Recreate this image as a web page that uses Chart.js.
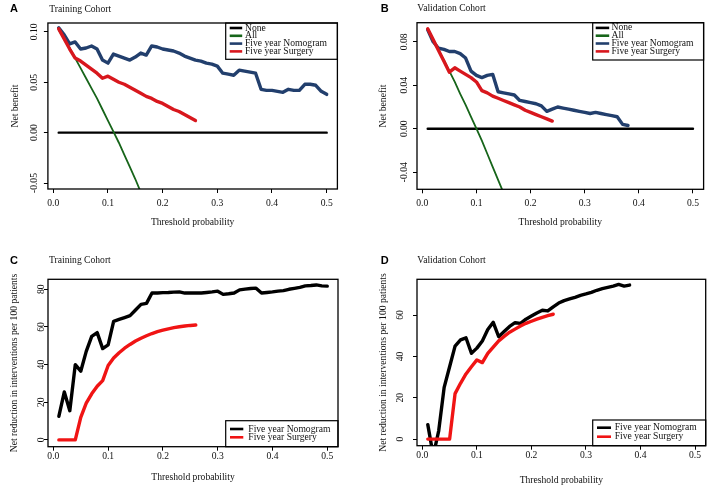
<!DOCTYPE html>
<html>
<head>
<meta charset="utf-8">
<script src="https://cdn.jsdelivr.net/npm/chart.js@4.4.0/dist/chart.umd.min.js"></script>
<style>
  body { margin: 0; background: #fff; width: 708px; height: 489px; position: relative; overflow: hidden; }
  canvas { position: absolute; }
</style>
</head>
<body>
<canvas id="chartA" width="354" height="240" style="left:0;top:0"></canvas>
<canvas id="chartB" width="354" height="240" style="left:354px;top:0"></canvas>
<canvas id="chartC" width="354" height="249" style="left:0;top:240px"></canvas>
<canvas id="chartD" width="354" height="249" style="left:354px;top:240px"></canvas>
<script>
// threshold probabilities (x values); shorter series use the first n of them
const thresholds = [0.01, 0.02, 0.03, 0.04, 0.05, 0.06, 0.07, 0.08, 0.09, 0.10,
                    0.11, 0.12, 0.13, 0.14, 0.15, 0.16, 0.17, 0.18, 0.19, 0.20,
                    0.21, 0.22, 0.23, 0.24, 0.25, 0.26, 0.27, 0.28, 0.29, 0.30,
                    0.31, 0.32, 0.33, 0.34, 0.35, 0.36, 0.37, 0.38, 0.39, 0.40,
                    0.41, 0.42, 0.43, 0.44, 0.45, 0.46, 0.47, 0.48, 0.49, 0.50];
const noneX = [0.01, 0.50];
const seriesNames = ['None', 'All', 'Five year Nomogram', 'Five year Surgery'];

// A: training cohort, net benefit
const noneTrain = [0, 0];
const allTrain = [0.102, 0.093, 0.084, 0.074, 0.064, 0.054, 0.044, 0.034, 0.023, 0.012,
                  0.001, -0.010, -0.022, -0.034, -0.046, -0.059];
const nomoTrain = [0.104, 0.097, 0.088, 0.090, 0.083, 0.084, 0.086, 0.083, 0.072, 0.069,
                   0.078, 0.076, 0.074, 0.072, 0.075, 0.079, 0.077, 0.086, 0.085, 0.083,
                   0.082, 0.081, 0.079, 0.076, 0.074, 0.072, 0.071, 0.069, 0.068, 0.066,
                   0.059, 0.058, 0.057, 0.062, 0.061, 0.060, 0.059, 0.043, 0.042, 0.042,
                   0.041, 0.040, 0.043, 0.042, 0.042, 0.048, 0.048, 0.047, 0.041, 0.038];
const surgTrain = [0.103, 0.093, 0.083, 0.074, 0.071, 0.067, 0.063, 0.059, 0.054, 0.056,
                   0.053, 0.050, 0.048, 0.045, 0.042, 0.039, 0.036, 0.034, 0.031, 0.029,
                   0.026, 0.023, 0.021, 0.018, 0.015, 0.012];

// B: validation cohort, net benefit
const noneValid = [0, 0];
const allValid = [0.091, 0.082, 0.072, 0.063, 0.053, 0.043, 0.032, 0.022, 0.011, 0.000,
                  -0.011, -0.023, -0.035, -0.047, -0.059];
const nomoValid = [0.091, 0.080, 0.074, 0.073, 0.071, 0.071, 0.069, 0.065, 0.053, 0.049,
                   0.047, 0.049, 0.050, 0.034, 0.033, 0.032, 0.031, 0.026, 0.025, 0.024,
                   0.023, 0.021, 0.016, 0.018, 0.020, 0.019, 0.018, 0.017, 0.016, 0.015,
                   0.014, 0.015, 0.014, 0.013, 0.012, 0.011, 0.004, 0.003];
const surgValid = [0.092, 0.082, 0.072, 0.062, 0.052, 0.056, 0.053, 0.050, 0.047, 0.043,
                   0.035, 0.033, 0.030, 0.028, 0.026, 0.024, 0.022, 0.020, 0.017, 0.015,
                   0.013, 0.011, 0.009, 0.007];

// C: training cohort, net reduction in interventions per 100 patients
const nomoTrainRed = [12.5, 25.5, 15.5, 40, 36.5, 47, 55, 57, 48.5, 50.5,
                      63, 64, 65, 66, 69, 72, 72.5, 78, 78, 78.2,
                      78.3, 78.5, 78.6, 78, 78, 78, 78, 78.3, 78.6, 79,
                      77.3, 77.6, 78, 79.7, 80.1, 80.4, 80.6, 78, 78.3, 78.6,
                      79, 79.3, 80, 80.5, 81, 81.8, 82, 82.3, 81.8, 81.7];
const surgTrainRed = [0, 0, 0, 0, 12, 19.5, 24.5, 28.5, 31.5, 39.5,
                      43.5, 46.3, 48.7, 50.7, 52.5, 54, 55.3, 56.5, 57.5, 58.3,
                      59, 59.6, 60.1, 60.5, 60.8, 61];

// D: validation cohort, net reduction in interventions per 100 patients
const nomoValidRed = [7, -8, 4, 25, 35, 45, 48, 49, 41.5, 44,
                      47.5, 53, 56.5, 49.5, 52, 54.5, 56.3, 56, 58, 59.5,
                      61, 62.3, 62, 64, 65.8, 67, 67.8, 68.6, 69.5, 70.2,
                      71, 72, 72.8, 73.4, 74, 74.8, 74, 74.5];
const surgValidRed = [0, 0, 0, 0, 0, 22, 27, 31.5, 35, 38.3,
                      37, 41.5, 44.5, 47.5, 49.7, 51.7, 53.2, 54.7, 56, 57,
                      58, 58.9, 59.7, 60.4];

// axis ticks
const xTicks = [0, 0.1, 0.2, 0.3, 0.4, 0.5];
const xTickLabels = ['0.0', '0.1', '0.2', '0.3', '0.4', '0.5'];
const yTicksA = [-0.05, 0, 0.05, 0.10];
const yTickLabelsA = ['-0.05', '0.00', '0.05', '0.10'];
const yTicksB = [-0.04, 0, 0.04, 0.08];
const yTickLabelsB = ['-0.04', '0.00', '0.04', '0.08'];
const yTicksC = [0, 20, 40, 60, 80];
const yTickLabelsC = ['0', '20', '40', '60', '80'];
const yTicksD = [0, 20, 40, 60];
const yTickLabelsD = ['0', '20', '40', '60'];

const serif = '"Liberation Serif", "Times New Roman", serif';
const fs = 9.6;
Chart.defaults.font.family = serif;
Chart.defaults.font.size = fs;
Chart.defaults.color = '#111';

const pts = (xs, ys) => ys.map((y, i) => ({ x: xs[i], y: y }));

const mctx = document.createElement('canvas').getContext('2d');
mctx.font = fs + 'px ' + serif;

// box around the plot region, R-style legend, panel letter and title
const rDecor = {
  id: 'rDecor',
  afterDraw(chart, args, o) {
    const { ctx, chartArea } = chart;
    const lg = o.legend;
    ctx.save();
    // legend
    ctx.fillStyle = '#fff';
    ctx.fillRect(lg.left, lg.top, chartArea.right - lg.left, lg.bottom - lg.top);
    ctx.strokeStyle = '#000';
    ctx.lineWidth = 1.2;
    ctx.strokeRect(lg.left, lg.top, chartArea.right - lg.left, lg.bottom - lg.top);
    ctx.font = fs + 'px ' + serif;
    ctx.textBaseline = 'middle';
    ctx.textAlign = 'left';
    chart.data.datasets.forEach((ds, i) => {
      const y = lg.rows[i];
      ctx.strokeStyle = ds.borderColor;
      ctx.lineWidth = 2.6;
      ctx.beginPath();
      ctx.moveTo(lg.left + lg.lineFrom, y);
      ctx.lineTo(lg.left + lg.lineTo, y);
      ctx.stroke();
      ctx.fillStyle = '#111';
      ctx.fillText(ds.label, lg.left + lg.textX, y);
    });
    // plot box
    ctx.strokeStyle = '#000';
    ctx.lineWidth = 1.3;
    ctx.strokeRect(chartArea.left, chartArea.top, chartArea.right - chartArea.left, chartArea.bottom - chartArea.top);
    // panel letter and title
    ctx.fillStyle = '#000';
    ctx.textBaseline = 'alphabetic';
    ctx.font = 'bold 11px "Liberation Sans", Arial, sans-serif';
    ctx.fillText(o.letter, o.letterX, o.letterY);
    ctx.font = fs + 'px ' + serif;
    ctx.textBaseline = 'middle';
    ctx.fillStyle = '#111';
    ctx.fillText(o.title, o.titleX, o.titleY);
    ctx.restore();
  }
};

function makePanel(id, p) {
  const widest = Math.max(...p.yLabels.map(l => mctx.measureText(l).width));
  const yPad = p.g.L - 4 - p.g.yLabelX - widest / 2;
  return new Chart(document.getElementById(id), {
    type: 'line',
    data: { datasets: p.datasets },
    plugins: [rDecor],
    options: {
      responsive: false,
      animation: false,
      devicePixelRatio: 1,
      layout: { padding: { left: 0, top: p.g.T, right: p.g.R, bottom: 0 } },
      plugins: {
        legend: { display: false },
        tooltip: { enabled: false },
        rDecor: p.decor
      },
      elements: { point: { radius: 0 }, line: { tension: 0, borderCapStyle: 'round', borderJoinStyle: 'round' } },
      scales: {
        x: {
          type: 'linear',
          min: -0.0098,
          max: 0.5196,
          afterFit: s => { s.height = p.g.XH; },
          afterBuildTicks: s => { s.ticks = xTicks.map(v => ({ value: v })); },
          ticks: { autoSkip: false, maxRotation: 0, padding: p.g.xTickPad, callback: (v, i) => xTickLabels[i] },
          grid: { drawOnChartArea: false, drawTicks: true, tickLength: 4, color: '#000', lineWidth: 1 },
          border: { display: false },
          title: { display: true, text: 'Threshold probability', padding: { top: 0, bottom: p.g.xTitlePad } }
        },
        y: {
          type: 'linear',
          min: p.yMin,
          max: p.yMax,
          afterFit: s => { s.width = p.g.L; },
          afterBuildTicks: s => { s.ticks = p.yTicks.map(v => ({ value: v })); },
          ticks: { autoSkip: false, minRotation: 90, maxRotation: 90, crossAlign: 'center', padding: yPad,
                   callback: (v, i) => p.yLabels[i] },
          grid: { drawOnChartArea: false, drawTicks: true, tickLength: 4, color: '#000', lineWidth: 1 },
          border: { display: false },
          title: { display: true, text: p.yTitle, padding: { top: p.g.yTitlePad, bottom: 0 } }
        }
      }
    }
  });
}

const colNone = '#000000', colAll = '#17651a', colNomo = '#223f6d', colSurg = '#d8171d';

function nbSets(none, all, nomo, surg) {
  return [
    { label: seriesNames[0], data: pts(noneX, none), borderColor: colNone, borderWidth: 2.4, order: 3, clip: 0 },
    { label: seriesNames[1], data: pts(thresholds, all), borderColor: colAll, borderWidth: 1.8, order: 2, clip: 0 },
    { label: seriesNames[2], data: pts(thresholds, nomo), borderColor: colNomo, borderWidth: 3.4, order: 1, clip: 0 },
    { label: seriesNames[3], data: pts(thresholds, surg), borderColor: colSurg, borderWidth: 3.4, order: 0, clip: 0 }
  ];
}
function redSets(nomo, surg) {
  return [
    { label: seriesNames[2], data: pts(thresholds, nomo), borderColor: '#000000', borderWidth: 3.4, order: 1, clip: 0 },
    { label: seriesNames[3], data: pts(thresholds, surg), borderColor: '#f01414', borderWidth: 3.4, order: 0, clip: 0 }
  ];
}

makePanel('chartA', {
  datasets: nbSets(noneTrain, allTrain, nomoTrain, surgTrain),
  yMin: -0.0559, yMax: 0.1088, yTicks: yTicksA, yLabels: yTickLabelsA, yTitle: 'Net benefit',
  g: { L: 47.9, T: 23, R: 16.6, XH: 51, xTickPad: 4.7, xTitlePad: 11.5, yTitlePad: 10.2, yLabelX: 34 },
  decor: { letter: 'A', letterX: 10, letterY: 11.7, title: 'Training Cohort', titleX: 49.3, titleY: 9.3,
           legend: { left: 225.7, top: 23, bottom: 59.3, rows: [28, 35.8, 43.6, 51.4], lineFrom: 4, lineTo: 16.5, textX: 19.3 } }
});

makePanel('chartB', {
  datasets: nbSets(noneValid, allValid, nomoValid, surgValid),
  yMin: -0.0557, yMax: 0.0975, yTicks: yTicksB, yLabels: yTickLabelsB, yTitle: 'Net benefit',
  g: { L: 63, T: 22.7, R: 4.4, XH: 50.7, xTickPad: 4.9, xTitlePad: 11.5, yTitlePad: 24.2, yLabelX: 50 },
  decor: { letter: 'B', letterX: 26.7, letterY: 11.7, title: 'Validation Cohort', titleX: 63.3, titleY: 8.7,
           legend: { left: 238.7, top: 22.7, bottom: 60, rows: [27.9, 35.7, 43.5, 51.4], lineFrom: 3, lineTo: 16.5, textX: 18.8 } }
});

makePanel('chartC', {
  datasets: redSets(nomoTrainRed, surgTrainRed),
  yMin: -3.6, yMax: 85.3, yTicks: yTicksC, yLabels: yTickLabelsC, yTitle: 'Net reduction in interventions per 100 patients',
  g: { L: 48, T: 39.3, R: 16, XH: 42.3, xTickPad: -0.3, xTitlePad: 5.9, yTitlePad: 9.2, yLabelX: 41 },
  decor: { letter: 'C', letterX: 10, letterY: 24, title: 'Training Cohort', titleX: 49, titleY: 20.7,
           legend: { left: 225.7, top: 180.7, bottom: 206.7, rows: [189, 197.3], lineFrom: 4.3, lineTo: 17.6, textX: 22.6 } }
});

makePanel('chartD', {
  datasets: redSets(nomoValidRed, surgValidRed),
  yMin: -3.2, yMax: 77.3, yTicks: yTicksD, yLabels: yTickLabelsD, yTitle: 'Net reduction in interventions per 100 patients',
  g: { L: 63, T: 39.3, R: 2.3, XH: 43.3, xTickPad: -0.3, xTitlePad: 2.5, yTitlePad: 24.2, yLabelX: 46 },
  decor: { letter: 'D', letterX: 26.7, letterY: 24, title: 'Validation Cohort', titleX: 63.3, titleY: 20,
           legend: { left: 238.7, top: 180, bottom: 205.7, rows: [187.7, 196.7], lineFrom: 4.3, lineTo: 18.3, textX: 22 } }
});
</script>
</body>
</html>
